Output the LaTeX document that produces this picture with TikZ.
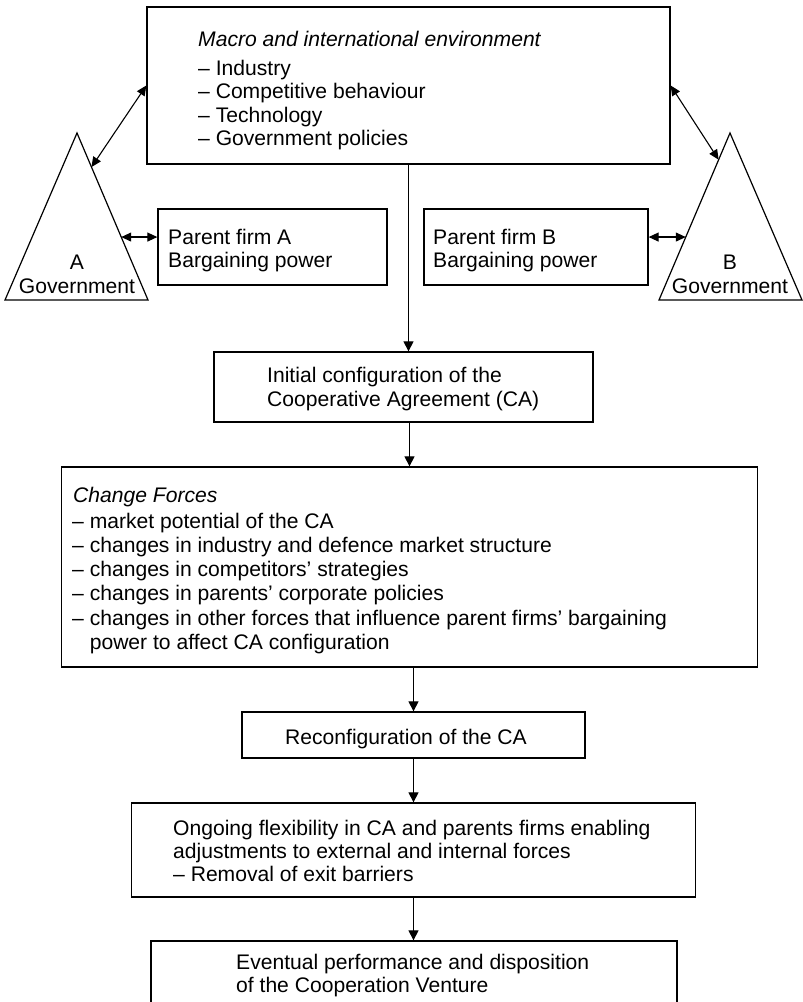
\documentclass[tikz,border=0pt]{standalone}
\usepackage{fontspec}
\setmainfont{Liberation Sans}
\usetikzlibrary{arrows.meta,calc}
\begin{document}
\begin{tikzpicture}[x=1pt,y=-1pt,
  box/.style={draw, line width=1.3pt, inner sep=0pt, rectangle},
  txt/.style={anchor=base west, inner sep=0pt, font=\fontsize{21.1}{23.5}\selectfont},
  ctxt/.style={anchor=base, inner sep=0pt, font=\fontsize{21.1}{23.5}\selectfont},
  arr/.style={line width=1.1pt, -{Triangle[length=10pt,width=10pt]}},
  dbl/.style={line width=1.1pt, {Triangle[length=10pt,width=9pt]}-{Triangle[length=10pt,width=9pt]}},
  tri/.style={draw, line width=1.2pt, line join=miter}]
\useasboundingbox (0,0) rectangle (803,1002);
\clip (0,0) rectangle (803,1002);

% boxes
\node[box, minimum width=523pt, minimum height=157pt] (env) at (408.5,85.5) {};
\node[box, minimum width=229pt, minimum height=76pt] (pA) at (272.5,247) {};
\node[box, minimum width=224pt, minimum height=76pt] (pB) at (536,247) {};
\node[box, minimum width=379pt, minimum height=70pt] (init) at (403.5,387) {};
\node[box, minimum width=696pt, minimum height=200pt] (change) at (409.5,567) {};
\node[box, minimum width=343pt, minimum height=46pt] (reconf) at (413.5,735) {};
\node[box, minimum width=564pt, minimum height=94pt] (ongo) at (413.5,850) {};
\node[box, minimum width=526pt, minimum height=90pt] (evt) at (414,986) {};

% government triangles
\coordinate (apexA) at (77,133);
\coordinate (blA) at (5,300);
\coordinate (brA) at (148,300);
\coordinate (apexB) at (730,133);
\coordinate (blB) at (659,300);
\coordinate (brB) at (802,300);
\draw[tri] (apexA) -- (blA) -- (brA) -- cycle;
\draw[tri] (apexB) -- (blB) -- (brB) -- cycle;
\coordinate (gA1) at ($(apexA)!0.204!(brA)$);
\coordinate (gA2) at ($(apexA)!0.623!(brA)$);
\coordinate (gB1) at ($(apexB)!0.16!(blB)$);
\coordinate (gB2) at ($(apexB)!0.623!(blB)$);

% texts
\node[txt] (env1) at (198,46) {\itshape Macro and international environment};
\node[txt] (env2) at (198,75) {– Industry};
\node[txt] (env3) at (198,98.5) {– Competitive behaviour};
\node[txt] (env4) at (198,122) {– Technology};
\node[txt] (env5) at (198,145.5) {– Government policies};

\node[txt] (pA1) at (168,244) {Parent firm A};
\node[txt] (pA2) at (168,267) {Bargaining power};
\node[txt] (pB1) at (433,244) {Parent firm B};
\node[txt] (pB2) at (433,267) {Bargaining power};

\node[ctxt] (gA3) at (77,269) {A};
\node[ctxt] (gA4) at (77,293) {Government};
\node[ctxt] (gB3) at (730,269) {B};
\node[ctxt] (gB4) at (730,293) {Government};

\node[txt] (init1) at (267,382.5) {Initial configuration of the};
\node[txt] (init2) at (267,406) {Cooperative Agreement (CA)};

\node[txt] (ch1) at (73,502) {\itshape Change Forces};
\node[txt] (ch2) at (72,528) {– market potential of the CA};
\node[txt] (ch3) at (72,552.5) {– changes in industry and defence market structure};
\node[txt] (ch4) at (72,576.5) {– changes in competitors’ strategies};
\node[txt] (ch5) at (72,600.5) {– changes in parents’ corporate policies};
\node[txt] (ch6) at (72,625) {– changes in other forces that influence parent firms’ bargaining};
\node[txt] (ch7) at (72,649) {\hphantom{– }power to affect CA configuration};

\node[txt] (rc1) at (285,744) {Reconfiguration of the CA};

\node[txt] (on1) at (173,835) {Ongoing flexibility in CA and parents firms enabling};
\node[txt] (on2) at (173,858) {adjustments to external and internal forces};
\node[txt] (on3) at (173,881.5) {– Removal of exit barriers};

\node[txt] (ev1) at (236,969) {Eventual performance and disposition};
\node[txt] (ev2) at (236,992.5) {of the Cooperation Venture};

% connectors
\draw[dbl] (env.west) -- (gA1);
\draw[dbl] (gA2) -- (gA2 -| pA.west);
\draw[dbl] (env.east) -- (gB1);
\draw[dbl] (gB2 -| pB.east) -- (gB2);
\draw[arr] (env.south) -- (env.south |- init.north);
\draw[arr] (init.south -| change.north) -- (change.north);
\draw[arr] (change.south -| reconf.north) -- (reconf.north);
\draw[arr] (reconf.south) -- (reconf.south |- ongo.north);
\draw[arr] (ongo.south) -- (ongo.south |- evt.north);
\end{tikzpicture}
\end{document}
